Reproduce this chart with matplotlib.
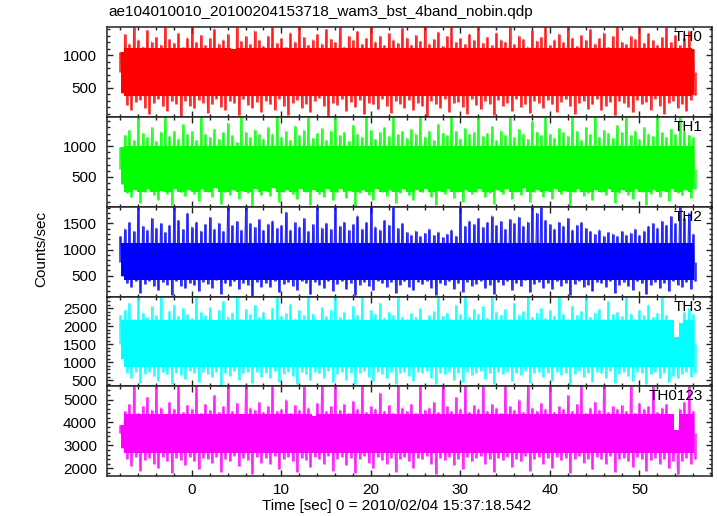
import matplotlib
matplotlib.use("Agg")
import matplotlib.pyplot as plt
import numpy as np
from matplotlib.ticker import MultipleLocator

plt.rcParams['font.family'] = ['Liberation Sans', 'DejaVu Sans']

# peak (hi) and trough (lo) rates per half-second bin, t = -8 .. 56 s
t0 = -8.0
dt = 0.5

th0_hi = [1050, 1320, 1180, 1430, 1240, 1130, 1390, 1210, 1280, 1160, 1430, 1250, 1190, 1340, 1120, 1270,
          1430, 1200, 1310, 1150, 1260, 1410, 1180, 1240, 1330, 1100, 1430, 1220, 1290, 1170, 1380, 1230,
          1140, 1300, 1430, 1190, 1260, 1120, 1350, 1210, 1430, 1280, 1160, 1240, 1320, 1180, 1400, 1250,
          1200, 1430, 1130, 1290, 1230, 1370, 1170, 1260, 1430, 1210, 1300, 1150, 1340, 1240, 1190, 1420,
          1270, 1160, 1310, 1220, 1430, 1180, 1250, 1360, 1140, 1290, 1430, 1200, 1260, 1170, 1330, 1230,
          1430, 1190, 1280, 1150, 1350, 1240, 1210, 1430, 1170, 1300, 1250, 1130, 1390, 1220, 1280, 1430,
          1160, 1240, 1330, 1200, 1430, 1270, 1140, 1310, 1230, 1410, 1180, 1260, 1350, 1120, 1290, 1430,
          1210, 1170, 1300, 1250, 1430, 1190, 1340, 1230, 1160, 1280, 1430, 1200, 1310, 1150, 1260, 1380,
          1100]
th0_lo = [420, 230, 150, 280, 310, 190, 90, 260, 330, 210, 140, 290, 250, 60, 300, 220,
          180, 310, 270, 110, 240, 330, 200, 150, 290, 260, 70, 320, 230, 190, 280, 130,
          300, 240, 160, 330, 210, 80, 270, 310, 190, 250, 120, 290, 340, 220, 50, 260,
          230, 320, 140, 280, 200, 310, 90, 260, 240, 170, 330, 210, 110, 290, 250, 190,
          310, 150, 270, 220, 60, 300, 240, 190, 330, 130, 260, 280, 200, 100, 320, 230,
          170, 290, 250, 80, 310, 220, 270, 140, 330, 200, 240, 110, 300, 260, 190, 310,
          240, 130, 280, 320, 210, 90, 260, 300, 170, 240, 330, 150, 220, 280, 70, 290,
          260, 200, 120, 310, 240, 280, 160, 330, 220, 100, 270, 300, 190, 250, 140, 310,
          380]

th1_hi = [980, 1180, 1260, 1100, 1468, 1210, 1140, 1300, 1080, 1230, 1468, 1160, 1250, 1120, 1350, 1190,
          1240, 1090, 1468, 1200, 1150, 1280, 1110, 1220, 1380, 1170, 1060, 1468, 1230, 1140, 1260, 1190,
          1120, 1310, 1200, 1468, 1150, 1240, 1090, 1330, 1180, 1260, 1468, 1130, 1210, 1290, 1100, 1250,
          1468, 1170, 1230, 1080, 1340, 1200, 1150, 1468, 1260, 1110, 1220, 1300, 1160, 1468, 1190, 1240,
          1130, 1280, 1200, 1468, 1150, 1250, 1100, 1360, 1210, 1170, 1468, 1240, 1120, 1290, 1190, 1230,
          1468, 1160, 1210, 1320, 1090, 1250, 1180, 1468, 1140, 1270, 1200, 1110, 1400, 1230, 1170, 1468,
          1200, 1130, 1290, 1220, 1160, 1468, 1240, 1100, 1310, 1190, 1468, 1150, 1260, 1210, 1130, 1340,
          1230, 1468, 1170, 1250, 1110, 1300, 1200, 1160, 1468, 1220, 1140, 1280, 1190, 1468, 1240, 1180,
          1150]
th1_lo = [380, 240, 170, 290, 80, 260, 310, 200, 130, 270, 230, 40, 300, 250, 190, 280,
          220, 110, 300, 260, 180, 320, 60, 250, 210, 290, 150, 270, 240, 30, 310, 200,
          270, 190, 320, 90, 250, 280, 220, 140, 300, 260, 50, 290, 230, 180, 310, 120,
          250, 300, 160, 270, 20, 240, 290, 210, 130, 310, 260, 190, 280, 70, 240, 300,
          200, 130, 290, 250, 310, 180, 40, 270, 230, 300, 160, 260, 100, 290, 220, 250,
          310, 170, 240, 60, 280, 230, 300, 140, 260, 210, 320, 90, 250, 290, 180, 270,
          150, 300, 220, 270, 30, 250, 310, 190, 240, 120, 290, 260, 200, 310, 80, 240,
          280, 210, 140, 300, 260, 50, 230, 290, 180, 270, 110, 310, 240, 200, 290, 160,
          300]

th2_hi = [1250, 1400, 1520, 1350, 1817, 1450, 1380, 1600, 1420, 1500, 1330, 1470, 1817, 1560, 1390, 1700,
          1440, 1530, 1360, 1480, 1620, 1400, 1510, 1350, 1817, 1460, 1540, 1380, 1817, 1500, 1430, 1580,
          1370, 1490, 1550, 1410, 1460, 1720, 1380, 1520, 1440, 1600, 1350, 1480, 1817, 1420, 1510, 1390,
          1817, 1450, 1530, 1370, 1480, 1650, 1400, 1520, 1817, 1440, 1380, 1560, 1470, 1817, 1410, 1500,
          1330, 1280, 1360, 1250, 1310, 1400, 1270, 1340, 1230, 1300, 1380, 1260, 1817, 1450, 1550, 1480,
          1600, 1430, 1520, 1650, 1460, 1540, 1390, 1580, 1500, 1620, 1450, 1530, 1817, 1700, 1817, 1560,
          1480, 1400, 1530, 1450, 1600, 1380, 1470, 1520, 1410, 1350, 1290, 1380, 1260, 1330, 1300, 1250,
          1350, 1280, 1320, 1400, 1270, 1360, 1450, 1500, 1420, 1550, 1470, 1640, 1500, 1817, 1600, 1700,
          1300]
th2_lo = [500, 350, 280, 390, 170, 340, 400, 300, 230, 370, 330, 130, 390, 310, 260, 360,
          320, 200, 380, 340, 270, 410, 150, 350, 300, 390, 240, 360, 330, 110, 380, 290,
          360, 280, 400, 180, 340, 370, 310, 220, 390, 350, 140, 380, 320, 260, 400, 210,
          340, 390, 250, 360, 120, 330, 380, 300, 220, 400, 350, 280, 370, 160, 330, 390,
          290, 220, 380, 340, 400, 270, 130, 360, 320, 390, 250, 350, 190, 380, 310, 340,
          400, 260, 330, 150, 370, 320, 390, 230, 350, 300, 410, 180, 340, 380, 270, 360,
          240, 390, 310, 360, 120, 340, 400, 280, 330, 210, 380, 350, 290, 400, 170, 330,
          370, 300, 230, 390, 350, 140, 320, 380, 270, 360, 200, 400, 330, 290, 380, 250,
          400]

th3_hi = [2300, 2450, 2650, 2200, 2824, 2380, 2260, 2550, 2320, 2824, 2180, 2420, 2600, 2280, 2500, 2350,
          2220, 2824, 2400, 2300, 2520, 2160, 2450, 2700, 2270, 2380, 2824, 2200, 2480, 2330, 2580, 2250,
          2400, 2190, 2500, 2824, 2290, 2360, 2620, 2210, 2440, 2300, 2824, 2350, 2170, 2530, 2280, 2460,
          2824, 2260, 2390, 2200, 2570, 2320, 2824, 2180, 2440, 2350, 2650, 2230, 2400, 2300, 2824, 2270,
          2190, 2360, 2250, 2500, 2170, 2300, 2420, 2824, 2280, 2380, 2200, 2600, 2330, 2824, 2250, 2470,
          2350, 2550, 2240, 2824, 2400, 2300, 2480, 2190, 2650, 2320, 2420, 2824, 2260, 2380, 2500, 2220,
          2450, 2290, 2824, 2350, 2200, 2560, 2310, 2420, 2824, 2250, 2380, 2480, 2200, 2700, 2330, 2400,
          2280, 2824, 2350, 2200, 2450, 2300, 2600, 2250, 2380, 2824, 2300, 2180, 1700, 2100, 2400, 2500,
          2350]
th3_lo = [1100, 700, 560, 740, 430, 680, 720, 610, 480, 730, 660, 400, 710, 640, 530, 750,
          690, 450, 720, 660, 580, 740, 380, 700, 630, 760, 510, 690, 720, 420, 740, 600,
          710, 570, 750, 460, 680, 730, 620, 390, 720, 660, 500, 740, 690, 560, 760, 440,
          680, 740, 520, 710, 400, 690, 750, 600, 470, 730, 670, 550, 720, 410, 700, 740,
          630, 480, 720, 690, 760, 560, 390, 710, 660, 740, 520, 700, 450, 730, 640, 700,
          750, 540, 690, 410, 720, 670, 740, 480, 700, 640, 760, 430, 690, 730, 580, 710,
          490, 740, 650, 700, 380, 680, 750, 590, 700, 460, 730, 690, 560, 750, 420, 680,
          720, 610, 470, 740, 690, 400, 660, 730, 570, 710, 450, 620, 560, 680, 740, 600,
          700]

th0123_hi = [3900, 4500, 4800, 5578, 4400, 4700, 5100, 4550, 5578, 4650, 4350, 4900, 4600, 5578, 4450, 4750,
             4600, 5578, 4400, 4800, 4550, 5200, 4450, 4700, 5578, 4500, 4850, 4350, 5578, 4650, 4550, 4900,
             4450, 4700, 5578, 4500, 4600, 5000, 4400, 4750, 4550, 5578, 4650, 4300, 4850, 5578, 4500, 4700,
             5578, 4550, 4800, 4400, 4950, 4600, 5578, 4450, 4700, 4600, 5300, 4500, 4750, 4400, 5578, 4650,
             4500, 4800, 4400, 5578, 4550, 4650, 4900, 4450, 5578, 4700, 4500, 5100, 4600, 5578, 4450, 4750,
             4600, 5578, 4500, 4800, 4650, 4400, 5578, 4700, 4550, 5000, 4450, 5578, 4650, 4500, 4850, 4600,
             5578, 4450, 4700, 4600, 5200, 4500, 4800, 5578, 4400, 4650, 4900, 4550, 5578, 4450, 4700, 4600,
             4750, 4500, 5578, 4400, 4850, 4600, 4700, 5578, 4450, 4650, 4800, 4350, 3650, 4600, 4900, 5578,
             4500]
th0123_lo = [2900, 2400, 2100, 2500, 1900, 2350, 2450, 2200, 2000, 2500, 2300, 1800, 2450, 2350, 2150, 2500,
             2300, 1950, 2450, 2400, 2250, 2500, 1850, 2400, 2300, 2550, 2100, 2450, 2350, 1750, 2500, 2250,
             2450, 2200, 2550, 1950, 2400, 2500, 2300, 1850, 2450, 2350, 2050, 2500, 2400, 2200, 2550, 1900,
             2400, 2500, 2150, 2450, 1800, 2400, 2550, 2250, 2000, 2500, 2350, 2200, 2450, 1850, 2400, 2500,
             2300, 2000, 2450, 2400, 2550, 2200, 1750, 2450, 2350, 2500, 2150, 2400, 1950, 2500, 2300, 2450,
             2550, 2200, 2400, 1850, 2450, 2350, 2500, 2050, 2400, 2300, 2550, 1900, 2400, 2500, 2200, 2450,
             2000, 2500, 2350, 2450, 1800, 2400, 2550, 2250, 2400, 1950, 2500, 2400, 2200, 2550, 1850, 2400,
             2450, 2300, 2050, 2500, 2400, 1900, 2350, 2450, 2200, 2400, 2000, 2300, 1750, 2300, 2450, 2200,
             2400]

# range where each band looks solid
core_lo = [370, 260, 420, 870, 2650]
core_hi = [1110, 1000, 1120, 2170, 4390]

names = ["TH0", "TH1", "TH2", "TH3", "TH0123"]
colors = ["#ff0000", "#00ff00", "#0000ff", "#00ffff", "#ff00ff"]
his = [th0_hi, th1_hi, th2_hi, th3_hi, th0123_hi]
los = [th0_lo, th1_lo, th2_lo, th3_lo, th0123_lo]
ylims = [(45, 1430), (16, 1468), (100, 1817), (333, 2824), (1665, 5578)]
ymajor = [500, 500, 500, 500, 1000]
yminor = [100, 100, 100, 100, 200]

fig = plt.figure(figsize=(7.17, 5.16), dpi=100)
gs = fig.add_gridspec(5, 1, left=0.149, right=0.993, top=0.947, bottom=0.0775, hspace=0)

for k in range(5):
    ax = fig.add_subplot(gs[k])
    hi = np.array(his[k], dtype=float)
    lo = np.array(los[k], dtype=float)
    t_hi = t0 + dt * np.arange(len(hi))
    t_lo = t_hi + dt / 2
    x = np.empty(2 * len(hi))
    y = np.empty(2 * len(hi))
    x[0::2], x[1::2] = t_hi, t_lo
    y[0::2], y[1::2] = hi, lo
    mid = 0.5 * (core_lo[k] + core_hi[k])

    # solid middle of the band, then the spiky fringe
    ax.fill_between(t_hi + dt / 4, np.maximum(lo, core_lo[k]), np.minimum(hi, core_hi[k]),
                    step='mid', color=colors[k], lw=0)
    ax.vlines(t_hi, mid, hi, color=colors[k], lw=2.0, alpha=0.75)
    ax.vlines(t_lo, lo, mid, color=colors[k], lw=2.0, alpha=0.75)
    ax.plot(x, y, color=colors[k], lw=0.6, alpha=0.6)

    ax.set_xlim(-9.5, 58.1)
    ax.set_ylim(*ylims[k])
    ax.xaxis.set_major_locator(MultipleLocator(10))
    ax.xaxis.set_minor_locator(MultipleLocator(2))
    ax.yaxis.set_major_locator(MultipleLocator(ymajor[k]))
    ax.yaxis.set_minor_locator(MultipleLocator(yminor[k]))
    ax.tick_params(which='both', direction='in', top=True, right=True,
                   labelsize=11, colors='#222222', labelcolor='black', width=1)
    ax.tick_params(which='major', length=4.5)
    ax.tick_params(which='minor', length=2.5)
    ax.tick_params(axis='y', which='major', pad=7)
    ax.tick_params(axis='x', which='major', pad=5)
    for s in ax.spines.values():
        s.set_linewidth(1.1)
        s.set_color('#222222')
    if k < 4:
        ax.tick_params(labelbottom=False)
    ax.text(0.985, 0.965, names[k], transform=ax.transAxes, ha='right', va='top',
            fontsize=11)

fig.text(108 / 717, 1 - 12 / 516, "ae104010010_20100204153718_wam3_bst_4band_nobin.qdp",
         ha='left', va='center', fontsize=11)
fig.text(41 / 717, 1 - 249 / 516, "Counts/sec", rotation=90, ha='center', va='center',
         fontsize=11)
fig.text(397 / 717, 1 - 506 / 516, "Time [sec] 0 = 2010/02/04 15:37:18.542",
         ha='center', va='center', fontsize=11)

fig.savefig("out.png", dpi=100)
